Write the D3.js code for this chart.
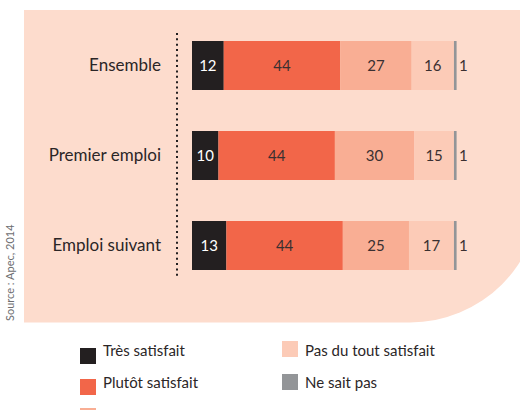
<!DOCTYPE html>
<html>
<head>
<meta charset="utf-8">
<script src="https://cdn.jsdelivr.net/npm/d3@7"></script>
<style>
html,body{margin:0;padding:0;background:#fff;overflow:hidden;}
svg{display:block;}
text{font-family:Lato, "Open Sans", sans-serif;}
</style>
</head>
<body>
<svg id="chart" width="520" height="440"></svg>
<script>
const categories = ["Ensemble", "Premier emploi", "Emploi suivant"];
const seriesNames = ["Très satisfait", "Plutôt satisfait", "Plutôt pas satisfait", "Pas du tout satisfait", "Ne sait pas"];
const tresSatisfait = [12, 10, 13];
const plutotSatisfait = [44, 44, 44];
const plutotPasSatisfait = [27, 30, 25];
const pasDuToutSatisfait = [16, 15, 17];
const neSaitPas = [1, 1, 1];
const colors = ["#231f20", "#f26649", "#f9ae94", "#fccbb7", "#939598"];
const labelColors = ["#ffffff", "#3a3031", "#3a3031", "#3a3031", "#3a3031"];
const sourceText = "Source : Apec, 2014";

const series = [tresSatisfait, plutotSatisfait, plutotPasSatisfait, pasDuToutSatisfait, neSaitPas];
const rows = categories.map((c, i) => {
  const o = {category: c};
  seriesNames.forEach((s, j) => o[s] = series[j][i]);
  return o;
});
const stacked = d3.stack().keys(seriesNames)(rows);

const svg = d3.select("#chart");

// background panel with rounded bottom-right corner
const L = 24, T = 10, R = 540, B = 322.5, rad = 130;
const p = d3.path();
p.moveTo(L, T); p.lineTo(R, T); p.lineTo(R, B - rad);
p.arc(R - rad, B - rad, rad, 0, Math.PI / 2);
p.lineTo(L, B); p.closePath();
svg.append("path").attr("d", p.toString()).attr("fill", "#fddccd");

const x = d3.scaleLinear().domain([0, 100]).range([192, 456.6]);
const y = d3.scaleBand().domain(categories).range([20.5, 290.5]).paddingInner(0.4556).paddingOuter(0.2278);

// dotted separator
svg.append("line")
  .attr("x1", 177).attr("x2", 177).attr("y1", 33).attr("y2", 276)
  .attr("stroke", "#231f20").attr("stroke-width", 2)
  .attr("stroke-dasharray", "2,3.35");

// bars
const g = svg.append("g");
stacked.forEach((layer, j) => {
  g.selectAll(null).data(layer).enter().append("rect")
    .attr("x", d => x(d[0]))
    .attr("y", d => y(d.data.category))
    .attr("width", d => x(d[1]) - x(d[0]))
    .attr("height", y.bandwidth())
    .attr("fill", colors[j]);
});

// value labels
stacked.forEach((layer, j) => {
  g.selectAll(null).data(layer).enter().append("text")
    .attr("x", d => j === 4 ? x(d[1]) + 2.5 : (x(d[0]) + x(d[1])) / 2)
    .attr("y", d => y(d.data.category) + y.bandwidth() / 2)
    .attr("dy", "0.36em")
    .attr("text-anchor", j === 4 ? "start" : "middle")
    .attr("font-size", 15)
    .attr("fill", labelColors[j])
    .text(d => d[1] - d[0]);
});

// category axis
const yAxis = d3.axisLeft(y).tickSize(0).tickPadding(0);
const ag = svg.append("g").attr("transform", "translate(161,0)").call(yAxis);
ag.select(".domain").remove();
ag.selectAll("text").attr("font-size", 17).attr("fill", "#2b2627")
  .attr("font-family", "Lato, sans-serif");

// source
svg.append("text")
  .attr("transform", "translate(14,321) rotate(-90)")
  .attr("font-size", 11).attr("fill", "#6d6e71")
  .text(sourceText);

// legend (third row lies mostly below the visible area, as in the original)
const legendPos = [
  {sx: 80, sy: 348, tx: 103, ty: 356},
  {sx: 80, sy: 379, tx: 103, ty: 388},
  {sx: 80, sy: 408, tx: 103, ty: 422},
  {sx: 282, sy: 341, tx: 305, ty: 356},
  {sx: 282, sy: 374, tx: 305, ty: 388}
];
const lg = svg.append("g");
seriesNames.forEach((s, j) => {
  const pos = legendPos[j];
  lg.append("rect").attr("x", pos.sx).attr("y", pos.sy).attr("width", 16).attr("height", 16).attr("fill", colors[j]);
  lg.append("text").attr("x", pos.tx).attr("y", pos.ty).attr("font-size", 15).attr("fill", "#2b2627").text(s);
});
</script>
</body>
</html>
